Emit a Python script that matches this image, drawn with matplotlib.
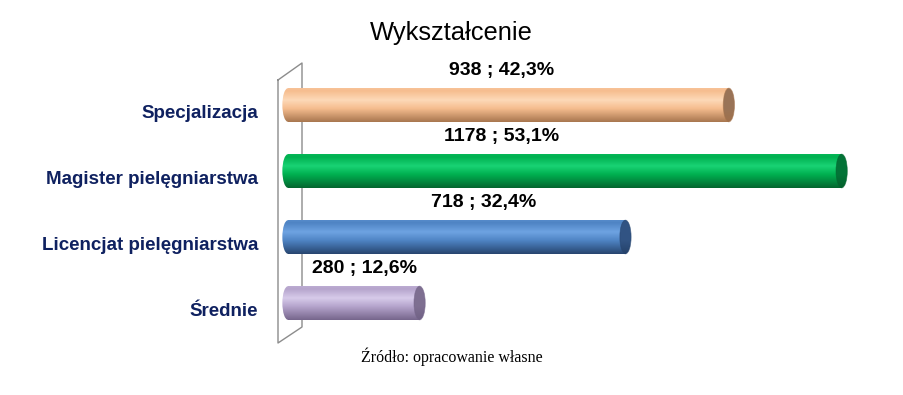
import numpy as np
import matplotlib
matplotlib.use("Agg")
import matplotlib.pyplot as plt
from matplotlib.patches import Rectangle, Ellipse
from matplotlib.lines import Line2D

# data (top to bottom as drawn)
categories = ["Specjalizacja", "Magister pielęgniarstwa", "Licencjat pielęgniarstwa", "Średnie"]
counts = [938, 1178, 718, 280]
percents = ["42,3%", "53,1%", "32,4%", "12,6%"]

# colours: highlight, mid, dark, cap
colors = [
    ("#fdd9b8", "#f6bd8f", "#a8764f", "#a27a5c"),
    ("#19d374", "#00b050", "#04652f", "#047a3a"),
    ("#6ea3e2", "#4f84c4", "#27456f", "#34588a"),
    ("#d7cbea", "#b5a4cc", "#76668c", "#857599"),
]


def hex2rgb(h):
    return np.array([int(h[i:i + 2], 16) / 255 for i in (1, 3, 5)])


def gradient(hi, mid, dark, n=120):
    hi, mid, dark = hex2rgb(hi), hex2rgb(mid), hex2rgb(dark)
    stops = [0.0, 0.08, 0.35, 0.6, 1.0]
    cols = [mid * 0.8 + hi * 0.2, mid, hi, mid, dark]
    t = np.linspace(0, 1, n)
    img = np.zeros((n, 1, 3))
    for ch in range(3):
        img[:, 0, ch] = np.interp(t, stops, [c[ch] for c in cols])
    return img


fig = plt.figure(figsize=(9.04, 3.95), dpi=100)
W, H = 904, 395
S = 0.47  # px per unit
X0 = 288  # px of x=0
XMIN, XMAX = -20, 1250
ax = fig.add_axes([(X0 + XMIN * S) / W, (H - 342.6) / H, (XMAX - XMIN) * S / W, 277.2 / H])
ax.axis("off")

ypos = np.arange(len(categories))[::-1]
h = 0.51
ew = 24  # ellipse width in data units

for y, v, cs in zip(ypos, counts, colors):
    img = gradient(cs[0], cs[1], cs[2])
    ext = [-ew / 2, v, y - h / 2, y + h / 2]
    rect = Rectangle((0, y - h / 2), v, h, transform=ax.transData)
    im = ax.imshow(img, extent=ext, aspect="auto", zorder=2)
    im.set_clip_path(rect)
    left = Ellipse((0, y), ew, h, transform=ax.transData)
    im2 = ax.imshow(img, extent=ext, aspect="auto", zorder=2)
    im2.set_clip_path(left)
    capimg = gradient(cs[3], cs[3], cs[2]) * 0.95
    cap = Ellipse((v, y), ew, h, transform=ax.transData)
    im3 = ax.imshow(capimg, extent=[v - ew / 2, v + ew / 2, y - h / 2, y + h / 2],
                    aspect="auto", zorder=3)
    im3.set_clip_path(cap)
    ax.add_patch(Ellipse((v, y), ew, h, fill=False, ec=cs[2], lw=0.6, alpha=0.6, zorder=4))

ax.set_xlim(XMIN, XMAX)
ax.set_ylim(-0.6, 3.6)

# value labels
for y, v, p in zip(ypos, counts, percents):
    lx = min(455, 0.58 * v)
    ax.text(lx, y + 0.53, f"{v} ; {p}", ha="center", va="center",
            fontsize=14, fontweight="bold", color="black",
            family=["Liberation Sans Narrow", "Liberation Sans", "DejaVu Sans"])

# category labels
for y, c in zip(ypos, categories):
    ax.text((258 - X0) / S, y - 0.13, c, ha="right", va="center",
            fontsize=13.5, fontweight="bold", color="#0f2160",
            family="Liberation Sans", clip_on=False)

# back wall
wall = [(278, 80), (302, 63), (302, 327), (278, 343), (278, 80)]
fig.add_artist(Line2D([p[0] / W for p in wall], [1 - p[1] / H for p in wall],
                      color="#8c8c8c", lw=1, zorder=0))

fig.text(451 / W, 1 - 33 / H, "Wykształcenie", ha="center", va="center",
         fontsize=18.4, family="Liberation Sans")
fig.text(452 / W, 1 - 357 / H, "Źródło: opracowanie własne", ha="center", va="center",
         fontsize=11.5, family="Liberation Serif")

fig.savefig("out.png", dpi=100)
